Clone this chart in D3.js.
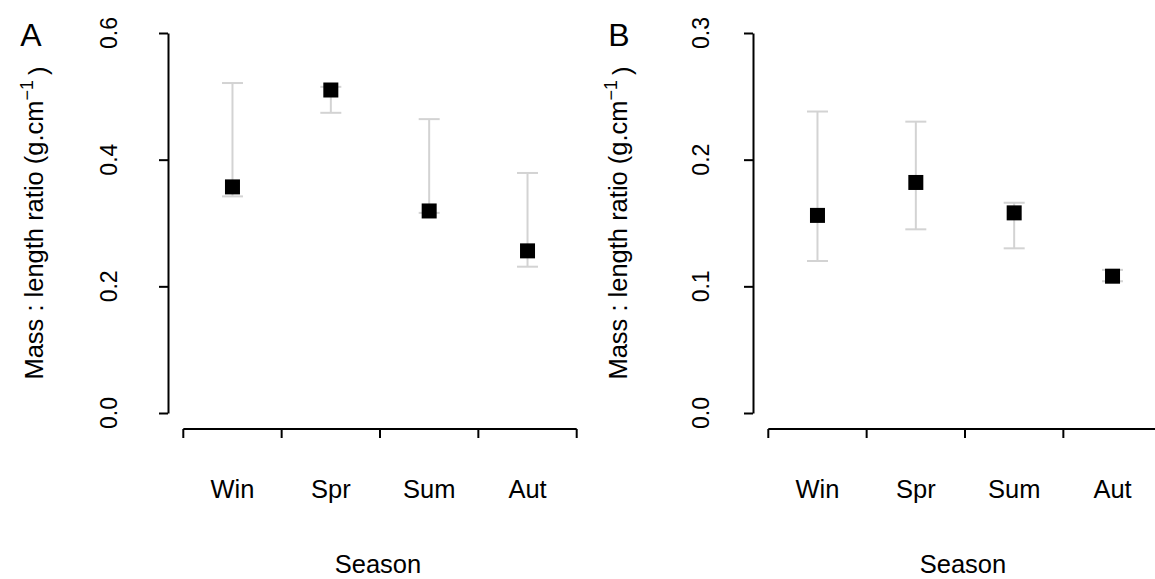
<!DOCTYPE html>
<html>
<head>
<meta charset="utf-8">
<script src="https://cdn.jsdelivr.net/npm/d3@7"></script>
<style>
  html, body { margin: 0; padding: 0; background: #fff; }
  svg { display: block; }
  text { font-family: "Liberation Sans", Arial, sans-serif; fill: #000; }
</style>
</head>
<body>
<svg id="chart" width="1155" height="579"></svg>
<script>
// ---- data ----
const categories = ["Win", "Spr", "Sum", "Aut"];
const meanA  = [0.357, 0.510, 0.319, 0.256];
const upperA = [0.521, 0.515, 0.464, 0.379];
const lowerA = [0.342, 0.474, 0.316, 0.231];
const meanB  = [0.156, 0.182, 0.158, 0.108];
const upperB = [0.238, 0.230, 0.166, 0.113];
const lowerB = [0.120, 0.145, 0.130, 0.104];
const yTicksA = [0, 0.2, 0.4, 0.6];
const yTicksB = [0, 0.1, 0.2, 0.3];
const panelLabels = ["A", "B"];
const xTitle = "Season";

const svg = d3.select("#chart");

const panels = [
  { label: panelLabels[0], mean: meanA, upper: upperA, lower: lowerA, ticks: yTicksA,
    axisX: 168, xRange: [183.3, 576.7], tickBase: 117, yLabelX: 43, letterX: 31 },
  { label: panelLabels[1], mean: meanB, upper: upperB, lower: lowerB, ticks: yTicksB,
    axisX: 753, xRange: [768.3, 1161.7], tickBase: 709, yLabelX: 627, letterX: 619 }
];

const yTop = 33, yBottom = 413, xAxisY = 429;

panels.forEach(p => {
  const g = svg.append("g");
  const y = d3.scaleLinear().domain([0, d3.max(p.ticks)]).range([yBottom, yTop]);
  const x = d3.scaleBand().domain(categories).range(p.xRange).padding(0);
  const fmt = d3.format(".1f");

  // y axis
  const ya = g.append("g")
    .attr("transform", `translate(${p.axisX},0)`)
    .call(d3.axisLeft(y).tickValues(p.ticks).tickSize(9).tickSizeOuter(0).tickFormat(fmt));
  ya.selectAll("path, line").attr("stroke", "#000").attr("stroke-width", 2);
  ya.selectAll("text").remove();
  g.selectAll(".ytl").data(p.ticks).enter().append("text")
    .attr("class", "ytl")
    .attr("transform", d => `translate(${p.tickBase},${y(d)}) rotate(-90)`)
    .attr("text-anchor", "middle")
    .style("font-size", "23px")
    .text(d => fmt(d));

  // x axis line with boundary ticks
  const bounds = categories.map(c => x(c)).concat([x(categories[categories.length - 1]) + x.bandwidth()]);
  g.append("line")
    .attr("x1", bounds[0]).attr("x2", bounds[bounds.length - 1])
    .attr("y1", xAxisY).attr("y2", xAxisY)
    .attr("stroke", "#000").attr("stroke-width", 2);
  g.selectAll(".xtick").data(bounds).enter().append("line")
    .attr("x1", d => d).attr("x2", d => d)
    .attr("y1", xAxisY).attr("y2", xAxisY + 9)
    .attr("stroke", "#000").attr("stroke-width", 2);
  g.selectAll(".xtl").data(categories).enter().append("text")
    .attr("x", d => x(d) + x.bandwidth() / 2)
    .attr("y", 498)
    .attr("text-anchor", "middle")
    .style("font-size", "25.5px")
    .text(d => d);

  // x title
  g.append("text")
    .attr("x", (p.xRange[0] + p.xRange[1]) / 2 - 2)
    .attr("y", 573)
    .attr("text-anchor", "middle")
    .style("font-size", "25.5px")
    .text(xTitle);

  // y title
  const yt = g.append("text")
    .attr("transform", `translate(${p.yLabelX},${(yTop + yBottom) / 2}) rotate(-90)`)
    .attr("text-anchor", "middle")
    .style("font-size", "25.5px");
  yt.append("tspan").text("Mass : length ratio (g.cm");
  yt.append("tspan").attr("dy", "-0.55em").style("font-size", "18px").text("\u22121");
  yt.append("tspan").attr("dy", "0.55em").attr("dx", "5").text(")");

  // panel letter
  g.append("text")
    .attr("x", p.letterX).attr("y", 46)
    .attr("text-anchor", "middle")
    .style("font-size", "32px")
    .text(p.label);

  // error bars
  const rows = categories.map((c, i) => ({ c, m: p.mean[i], u: p.upper[i], l: p.lower[i] }));
  const cx = d => x(d.c) + x.bandwidth() / 2;
  const eb = g.append("g").attr("stroke", "#d3d3d3").attr("stroke-width", 2);
  eb.selectAll(".v").data(rows).enter().append("line")
    .attr("x1", cx).attr("x2", cx)
    .attr("y1", d => y(d.u)).attr("y2", d => y(d.l));
  ["u", "l"].forEach(k => {
    eb.selectAll(".cap" + k).data(rows).enter().append("line")
      .attr("x1", d => cx(d) - 10.5).attr("x2", d => cx(d) + 10.5)
      .attr("y1", d => y(d[k])).attr("y2", d => y(d[k]));
  });

  // points
  g.selectAll(".pt").data(rows).enter().append("rect")
    .attr("x", d => cx(d) - 7.5).attr("y", d => y(d.m) - 7.5)
    .attr("width", 15).attr("height", 15)
    .attr("fill", "#000");
});
</script>
</body>
</html>
